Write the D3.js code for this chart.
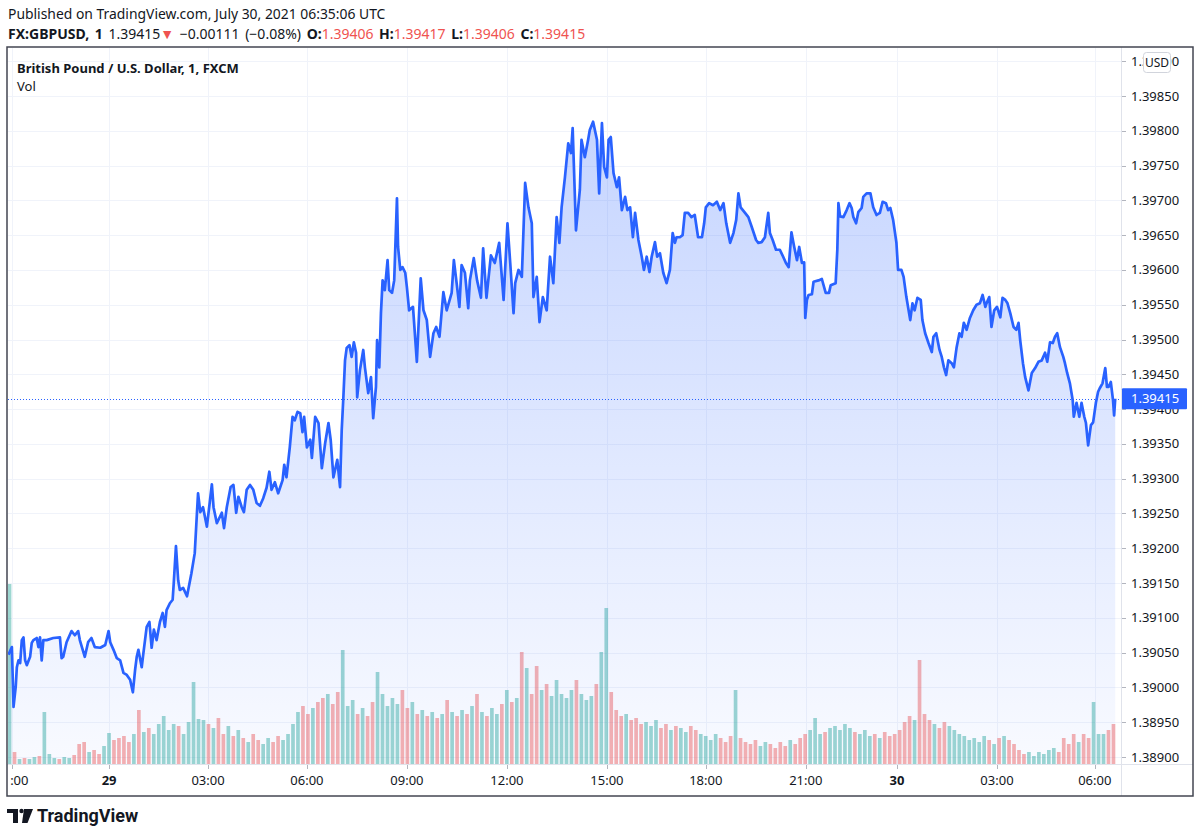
<!DOCTYPE html>
<html>
<head>
<meta charset="utf-8">
<script src="https://cdn.jsdelivr.net/npm/d3@7"></script>
<style>
  html, body { margin: 0; padding: 0; background: #fff; }
  svg { display: block; font-family: "Noto Sans", Roboto, sans-serif; }
</style>
</head>
<body>
<svg id="chart" width="1200" height="837"></svg>
<script>
// GBPUSD 1-minute closes, [bar index, close]
const closes = [
  [1,1.39047],[7,1.39058],[10,1.38972],[14,1.39001],[16,1.39029],[19,1.39039],[22,1.39035],[25,1.39068],[28,1.39072],[31,1.39039],
  [34,1.39032],[40,1.39044],[43,1.39064],[46,1.39068],[52,1.39071],[55,1.39058],[58,1.39072],[61,1.39039],[64,1.39068],[70,1.39068],
  [82,1.39071],[94,1.39072],[97,1.39042],[100,1.39044],[106,1.39065],[115,1.39081],[121,1.39075],[127,1.39081],[130,1.39068],[139,1.39044],
  [145,1.39065],[151,1.39071],[157,1.39058],[167,1.39057],[176,1.39061],[182,1.39081],[185,1.39065],[191,1.39054],[197,1.39042],[203,1.39039],
  [209,1.39021],[215,1.39018],[221,1.39011],[226,1.38993],[230,1.39025],[233,1.39044],[236,1.39054],[242,1.39029],[245,1.39049],[251,1.39087],
  [256,1.39094],[260,1.39057],[264,1.39083],[269,1.39068],[275,1.39094],[280,1.39107],[284,1.39087],[287,1.39111],[293,1.39121],[298,1.39126],
  [300,1.39150],[304,1.39203],[308,1.39154],[311,1.39140],[317,1.39143],[324,1.39131],[332,1.39164],[338,1.39193],[342,1.39251],[344,1.39279],
  [348,1.39252],[353,1.39259],[360,1.39231],[369,1.39292],[372,1.39259],[378,1.39236],[387,1.39251],[391,1.39229],[396,1.39259],[403,1.39288],
  [408,1.39291],[413,1.39251],[417,1.39274],[423,1.39259],[427,1.39252],[432,1.39284],[438,1.39291],[444,1.39284],[450,1.39265],[456,1.39261],
  [462,1.39272],[468,1.39287],[473,1.39310],[477,1.39284],[483,1.39295],[489,1.39279],[497,1.39298],[500,1.39320],[504,1.39302],[510,1.39345],
  [515,1.39389],[519,1.39384],[524,1.39396],[529,1.39394],[533,1.39367],[536,1.39389],[541,1.39345],[547,1.39356],[550,1.39330],[556,1.39389],
  [562,1.39380],[568,1.39315],[574,1.39351],[580,1.39380],[584,1.39356],[589,1.39302],[596,1.39327],[601,1.39288],[604,1.39370],[607,1.39417],
  [610,1.39470],[613,1.39488],[618,1.39492],[622,1.39475],[626,1.39496],[630,1.39481],[632,1.39417],[637,1.39456],[643,1.39485],[646,1.39460],
  [652,1.39423],[657,1.39446],[661,1.39387],[666,1.39432],[668,1.39499],[672,1.39460],[675,1.39538],[678,1.39585],[682,1.39571],[687,1.39614],
  [690,1.39571],[695,1.39567],[699,1.39585],[704,1.39703],[706,1.39633],[710,1.39600],[714,1.39604],[719,1.39596],[722,1.39575],[726,1.39542],
  [733,1.39547],[740,1.39468],[747,1.39588],[752,1.39542],[758,1.39528],[764,1.39475],[770,1.39509],[775,1.39518],[781,1.39504],[788,1.39568],
  [794,1.39542],[803,1.39567],[807,1.39614],[812,1.39581],[817,1.39547],[821,1.39607],[827,1.39596],[833,1.39545],[836,1.39585],[843,1.39617],
  [849,1.39585],[856,1.39560],[860,1.39631],[866,1.39560],[874,1.39621],[881,1.39610],[889,1.39639],[897,1.39557],[904,1.39667],[909,1.39610],
  [915,1.39538],[918,1.39581],[924,1.39600],[930,1.39590],[936,1.39725],[942,1.39690],[948,1.39667],[951,1.39561],[957,1.39590],[962,1.39525],
  [968,1.39561],[975,1.39542],[981,1.39619],[987,1.39581],[993,1.39676],[998,1.39639],[1002,1.39690],[1008,1.39733],[1014,1.39782],[1019,1.39768],
  [1022,1.39804],[1028,1.39657],[1035,1.39715],[1038,1.39787],[1044,1.39762],[1050,1.39787],[1053,1.39801],[1059,1.39813],[1066,1.39787],[1070,1.39710],
  [1075,1.39811],[1079,1.39748],[1084,1.39733],[1087,1.39787],[1091,1.39791],[1096,1.39739],[1102,1.39719],[1106,1.39733],[1111,1.39686],[1117,1.39705],
  [1121,1.39686],[1126,1.39690],[1131,1.39647],[1135,1.39682],[1141,1.39643],[1147,1.39619],[1151,1.39600],[1156,1.39619],[1161,1.39597],[1165,1.39619],
  [1171,1.39640],[1175,1.39619],[1180,1.39624],[1186,1.39596],[1192,1.39581],[1198,1.39600],[1203,1.39653],[1207,1.39639],[1210,1.39647],[1216,1.39647],
  [1221,1.39650],[1225,1.39682],[1231,1.39682],[1237,1.39676],[1243,1.39679],[1249,1.39647],[1256,1.39647],[1260,1.39667],[1263,1.39690],[1269,1.39696],
  [1276,1.39693],[1283,1.39698],[1289,1.39686],[1295,1.39696],[1300,1.39667],[1307,1.39639],[1313,1.39653],[1318,1.39672],[1322,1.39710],[1326,1.39690],
  [1334,1.39682],[1340,1.39676],[1346,1.39662],[1354,1.39643],[1358,1.39639],[1364,1.39640],[1370,1.39647],[1376,1.39682],[1379,1.39653],[1384,1.39643],
  [1390,1.39629],[1397,1.39629],[1403,1.39619],[1408,1.39610],[1413,1.39604],[1418,1.39654],[1423,1.39633],[1428,1.39614],[1432,1.39633],[1437,1.39610],
  [1441,1.39611],[1443,1.39531],[1446,1.39557],[1449,1.39564],[1455,1.39565],[1458,1.39583],[1467,1.39585],[1473,1.39587],[1480,1.39567],[1486,1.39567],
  [1489,1.39578],[1498,1.39581],[1501,1.39629],[1503,1.39696],[1506,1.39677],[1512,1.39676],[1518,1.39686],[1523,1.39696],[1527,1.39689],[1530,1.39676],
  [1535,1.39667],[1539,1.39683],[1545,1.39689],[1548,1.39705],[1554,1.39710],[1561,1.39710],[1566,1.39690],[1572,1.39679],[1578,1.39682],[1583,1.39698],
  [1589,1.39696],[1593,1.39686],[1597,1.39689],[1602,1.39672],[1608,1.39639],[1611,1.39600],[1617,1.39600],[1621,1.39590],[1626,1.39561],[1633,1.39528],
  [1637,1.39552],[1641,1.39542],[1646,1.39560],[1652,1.39557],[1655,1.39528],[1660,1.39509],[1666,1.39495],[1672,1.39482],[1675,1.39504],[1680,1.39509],
  [1686,1.39485],[1690,1.39475],[1694,1.39460],[1698,1.39449],[1702,1.39470],[1708,1.39466],[1712,1.39460],[1717,1.39489],[1722,1.39509],[1726,1.39504],
  [1730,1.39524],[1735,1.39514],[1741,1.39531],[1747,1.39542],[1753,1.39550],[1759,1.39552],[1764,1.39564],[1769,1.39547],[1771,1.39552],[1776,1.39561],
  [1780,1.39518],[1785,1.39542],[1790,1.39547],[1796,1.39532],[1800,1.39560],[1805,1.39557],[1809,1.39552],[1814,1.39538],[1820,1.39518],[1825,1.39514],
  [1829,1.39524],[1832,1.39499],[1837,1.39466],[1841,1.39446],[1847,1.39427],[1853,1.39452],[1859,1.39459],[1865,1.39468],[1871,1.39470],[1877,1.39481],
  [1881,1.39468],[1886,1.39496],[1891,1.39495],[1895,1.39504],[1899,1.39509],[1904,1.39489],[1910,1.39475],[1913,1.39466],[1917,1.39452],[1922,1.39437],
  [1927,1.39413],[1929,1.39389],[1934,1.39409],[1939,1.39389],[1943,1.39409],[1948,1.39389],[1951,1.39380],[1955,1.39348],[1960,1.39377],[1964,1.39381],
  [1969,1.39409],[1973,1.39425],[1976,1.39430],[1981,1.39437],[1986,1.39459],[1989,1.39432],[1992,1.39432],[1996,1.39439],[2000,1.39413],[2002,1.39391],
  [2004,1.39415]
];

// tick volume, summed per bucket of 9 bars
const volBucket = 9;
const volumes = [
  180,12,5,6,5,7,8,52,10,6,5,7,6,9,20,22,12,14,10,18,
  31,24,26,28,22,30,54,32,36,30,40,48,34,40,38,30,42,82,45,44,
  40,36,46,30,38,28,34,26,22,30,24,20,26,22,28,24,30,40,52,58,
  50,56,62,66,70,60,72,114,58,64,50,56,48,62,92,70,58,66,60,74,
  56,62,50,54,48,52,46,50,64,52,48,54,50,58,70,52,48,56,50,60,
  74,62,66,112,96,70,98,74,80,68,84,70,66,74,84,70,64,68,80,112,
  156,72,54,48,50,44,46,40,42,38,44,36,40,34,38,36,32,38,34,30,
  28,24,30,26,22,28,74,26,22,20,24,18,22,20,16,22,18,24,20,26,
  30,34,46,30,32,36,38,34,40,36,32,30,34,28,30,26,32,28,30,34,
  42,48,44,104,50,44,40,36,42,38,34,30,28,24,26,22,28,24,20,26,
  28,24,20,14,10,12,8,12,10,14,16,12,26,20,30,22,30,26,62,30,
  30,34,40
];

const timeTicks  = [7, 183, 362, 541, 722, 903, 1084, 1263, 1444, 1609, 1790, 1967];
const timeLabels = ["21:00","29","03:00","06:00","09:00","12:00","15:00","18:00","21:00","30","03:00","06:00"];
const dayLabels  = ["29","30"];

const priceTicks = [1.389,1.3895,1.39,1.3905,1.391,1.3915,1.392,1.3925,1.393,1.3935,1.394,
                    1.3945,1.395,1.3955,1.396,1.3965,1.397,1.3975,1.398,1.3985,1.399];

const lastPrice = 1.39415;
const headerLine1 = "Published on TradingView.com, July 30, 2021 06:35:06 UTC";
const headerParts = [
  ["FX:GBPUSD, 1", "b", "#131722"], [" 1.39415", "n", "#131722"], ["▼", "n", "#ef5350"],
  [" \u22120.00111 (\u22120.08%) ", "n", "#131722"],
  ["O:", "b", "#131722"], ["1.39406", "n", "#ef5350"], [" H:", "b", "#131722"], ["1.39417", "n", "#ef5350"],
  [" L:", "b", "#131722"], ["1.39406", "n", "#ef5350"], [" C:", "b", "#131722"], ["1.39415", "n", "#ef5350"]
];

const svg = d3.select("#chart");
const plot = {l: 8, t: 48, r: 1121, b: 764};

const x = d3.scaleLinear().domain([0, 2015]).range([8, 1121.3]);
const y = d3.scaleLinear().domain([1.389, 1.3985]).range([757, 96]);
const yv = d3.scaleLinear().domain([0, 160]).range([764, 604]);

const defs = svg.append("defs");
defs.append("clipPath").attr("id", "plotClip")
  .append("rect").attr("x", plot.l).attr("y", plot.t)
  .attr("width", plot.r - plot.l).attr("height", plot.b - plot.t);
defs.append("clipPath").attr("id", "timeClip")
  .append("rect").attr("x", plot.l).attr("y", plot.b)
  .attr("width", plot.r - plot.l).attr("height", 32);

const grad = defs.append("linearGradient").attr("id", "areaGrad")
  .attr("gradientUnits", "userSpaceOnUse").attr("x1", 0).attr("x2", 0).attr("y1", 120).attr("y2", 764);
grad.append("stop").attr("offset", 0).attr("stop-color", "#2962ff").attr("stop-opacity", 0.27);
grad.append("stop").attr("offset", 1).attr("stop-color", "#2962ff").attr("stop-opacity", 0.03);

// grid
const grid = svg.append("g").attr("clip-path", "url(#plotClip)");
grid.selectAll("line.h").data(priceTicks).join("line")
  .attr("x1", plot.l).attr("x2", plot.r)
  .attr("y1", d => Math.round(y(d)) + 0.5).attr("y2", d => Math.round(y(d)) + 0.5)
  .attr("stroke", "#f0f3fa").attr("stroke-width", 1);
grid.selectAll("line.v").data(timeTicks).join("line")
  .attr("x1", d => Math.round(x(d)) + 0.5).attr("x2", d => Math.round(x(d)) + 0.5)
  .attr("y1", plot.t).attr("y2", plot.b)
  .attr("stroke", "#f0f3fa").attr("stroke-width", 1);

// close price at a bar index (last known close)
const bis = d3.bisector(d => d[0]).right;
function closeAt(i) {
  const k = Math.max(0, bis(closes, i) - 1);
  return closes[k][1];
}

// volume
const volG = svg.append("g").attr("clip-path", "url(#plotClip)");
volG.selectAll("rect").data(volumes).join("rect")
  .attr("x", (d, k) => x(k * volBucket - 0.5))
  .attr("width", (d, k) => x((k + 1) * volBucket - 0.5) - x(k * volBucket - 0.5) - 1.3)
  .attr("y", d => yv(d))
  .attr("height", d => yv(0) - yv(d))
  .attr("fill", (d, k) => closeAt(k * volBucket + volBucket - 1) >= closeAt(k * volBucket - 1)
        ? "rgba(38,166,154,0.45)" : "rgba(239,83,80,0.45)");

// area + line
const area = d3.area().x(d => x(d[0])).y0(plot.b).y1(d => y(d[1]));
const line = d3.line().x(d => x(d[0])).y(d => y(d[1]));
const series = svg.append("g").attr("clip-path", "url(#plotClip)");
series.append("path").datum(closes).attr("d", area).attr("fill", "url(#areaGrad)");
series.append("path").datum(closes).attr("d", line)
  .attr("fill", "none").attr("stroke", "#2962ff").attr("stroke-width", 2.7)
  .attr("stroke-linejoin", "round");

// last price dotted line
svg.append("line")
  .attr("x1", plot.l).attr("x2", plot.r)
  .attr("y1", Math.round(y(lastPrice)) + 0.5).attr("y2", Math.round(y(lastPrice)) + 0.5)
  .attr("stroke", "#2962ff").attr("stroke-width", 1).attr("stroke-dasharray", "1,2");

// separators and frame
svg.append("line").attr("x1", plot.r + 0.5).attr("x2", plot.r + 0.5).attr("y1", 47).attr("y2", 796)
  .attr("stroke", "#e0e3eb");
svg.append("line").attr("x1", 7).attr("x2", 1193).attr("y1", plot.b + 0.5).attr("y2", plot.b + 0.5)
  .attr("stroke", "#e0e3eb");
svg.append("rect").attr("x", 7).attr("y", 47).attr("width", 1186).attr("height", 749)
  .attr("fill", "none").attr("stroke", "#434651").attr("stroke-width", 1.5);

// price axis
const yAxis = svg.append("g");
yAxis.selectAll("line").data(priceTicks).join("line")
  .attr("x1", plot.r + 1).attr("x2", plot.r + 5)
  .attr("y1", d => Math.round(y(d)) + 0.5).attr("y2", d => Math.round(y(d)) + 0.5)
  .attr("stroke", "#b2b5be");
yAxis.selectAll("text").data(priceTicks).join("text")
  .attr("x", 1131).attr("y", d => y(d)).attr("dy", "0.35em")
  .attr("font-size", 13).attr("fill", "#131722")
  .text(d3.format(".5f"));

// last price label
const lp = svg.append("g");
lp.append("rect").attr("x", plot.r + 1).attr("y", y(lastPrice) - 10.5).attr("width", 65).attr("height", 21)
  .attr("rx", 1).attr("fill", "#2962ff");
lp.append("text").attr("x", 1131).attr("y", y(lastPrice)).attr("dy", "0.35em")
  .attr("font-size", 13).attr("fill", "#fff").text(d3.format(".5f")(lastPrice));

// USD badge
svg.append("rect").attr("x", 1143.5).attr("y", 52.5).attr("width", 27).attr("height", 20).attr("rx", 3)
  .attr("fill", "#fff").attr("stroke", "#d1d4dc");
svg.append("text").attr("x", 1157).attr("y", 63).attr("dy", "0.35em").attr("text-anchor", "middle")
  .attr("font-size", 12).attr("fill", "#131722").text("USD");

// time axis
const tAxis = svg.append("g").attr("clip-path", "url(#timeClip)");
tAxis.selectAll("line").data(timeTicks).join("line")
  .attr("x1", d => Math.round(x(d)) + 0.5).attr("x2", d => Math.round(x(d)) + 0.5)
  .attr("y1", plot.b + 1).attr("y2", plot.b + 5).attr("stroke", "#b2b5be");
tAxis.selectAll("text").data(timeTicks).join("text")
  .attr("x", d => x(d)).attr("y", 780).attr("dy", "0.35em").attr("text-anchor", "middle")
  .attr("font-size", 13).attr("fill", "#131722")
  .attr("font-weight", (d, i) => dayLabels.includes(timeLabels[i]) ? "bold" : "normal")
  .text((d, i) => timeLabels[i]);

// legend inside the pane
svg.append("text").attr("x", 17).attr("y", 68).attr("dy", "0.35em")
  .attr("font-size", 13).attr("font-weight", "bold").attr("fill", "#131722")
  .text("British Pound / U.S. Dollar, 1, FXCM");
svg.append("text").attr("x", 17).attr("y", 86).attr("dy", "0.35em")
  .attr("font-size", 13).attr("fill", "#131722").text("Vol");

// header
svg.append("text").attr("x", 8).attr("y", 14).attr("dy", "0.35em")
  .attr("font-size", 13.9).attr("fill", "#131722").text(headerLine1);
const h2 = svg.append("text").attr("x", 8).attr("y", 34).attr("dy", "0.35em")
  .attr("font-size", 14).attr("word-spacing", 2);
h2.selectAll("tspan").data(headerParts).join("tspan")
  .attr("font-weight", d => d[1] === "b" ? "bold" : "normal")
  .attr("fill", d => d[2])
  .attr("xml:space", "preserve")
  .text(d => d[0]);

// TradingView logo
const logo = svg.append("g").attr("fill", "#131722");
logo.append("path").attr("d", "M7,809 H18 V823 H13 V813 H7 Z");
logo.append("circle").attr("cx", 21.5).attr("cy", 811).attr("r", 2.2);
logo.append("path").attr("d", "M24,809 H33 L27.5,823 H22 Z");
svg.append("text").attr("x", 37).attr("y", 816).attr("dy", "0.35em")
  .attr("font-size", 18).attr("font-weight", "bold").attr("fill", "#131722")
  .attr("font-family", "Roboto, sans-serif").text("TradingView");
</script>
</body>
</html>
